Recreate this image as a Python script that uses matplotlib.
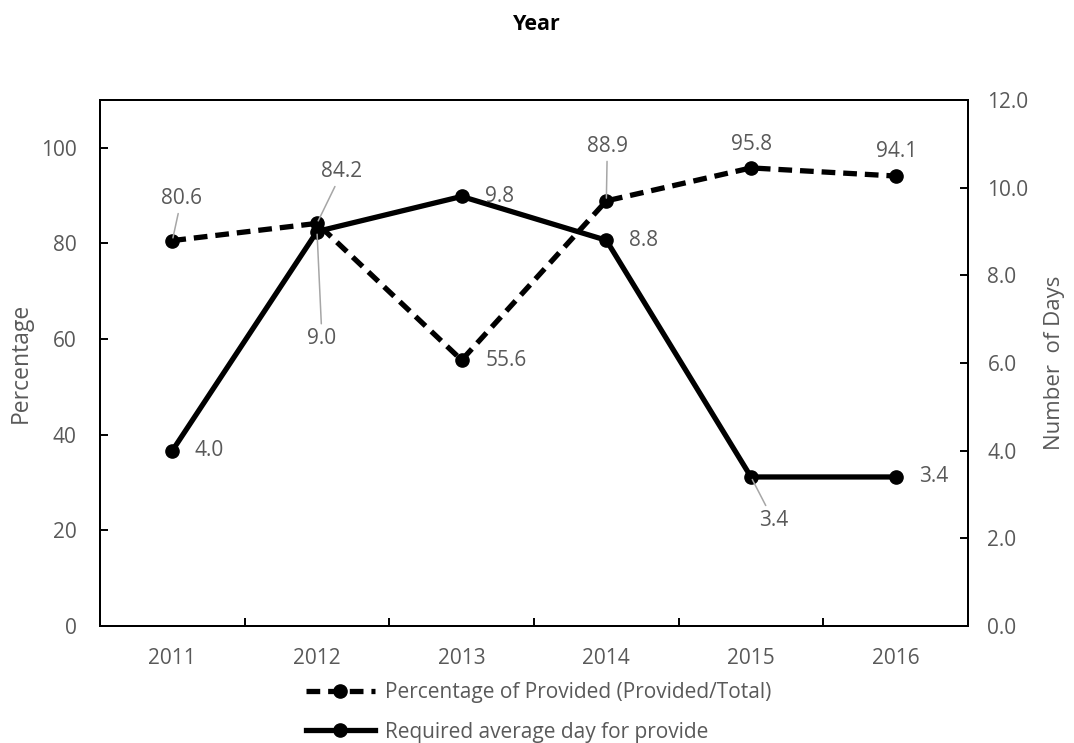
import matplotlib
matplotlib.use("Agg")
import matplotlib.pyplot as plt
from matplotlib.lines import Line2D

# ---- data ----
years = ["2011", "2012", "2013", "2014", "2015", "2016"]
pct_provided = [80.6, 84.2, 55.6, 88.9, 95.8, 94.1]
avg_days = [4.0, 9.0, 9.8, 8.8, 3.4, 3.4]

pct_ticks = [0, 20, 40, 60, 80, 100]
day_ticks = [0.0, 2.0, 4.0, 6.0, 8.0, 10.0, 12.0]

# label offsets (points) and whether a leader line is drawn
pct_label_style = [
    ((6.5, 30), "center", True),
    ((18, 37), "center", True),
    ((17, 0), "left", False),
    ((0.7, 39), "center", True),
    ((0.5, 17), "center", False),
    ((0.5, 18), "center", False),
]
day_label_style = [
    ((16, 0), "left", False),
    ((3.6, -77), "center", True),
    ((16.5, 0), "left", False),
    ((16.5, 0), "left", False),
    ((16, -31), "center", True),
    ((16.5, 0), "left", False),
]

plt.rcParams["font.family"] = ["Open Sans", "DejaVu Sans"]
TXT = "#595959"
LEAD = "#a6a6a6"
FS = 15

fig = plt.figure(figsize=(10.74, 7.43), dpi=100)
ax = fig.add_axes([100 / 1074, 117 / 743, 868 / 1074, 526 / 743])
ax2 = ax.twinx()

x = list(range(len(years)))

ax.plot(x, pct_provided, color="black", lw=3.8, ls=(0, (2.6, 1.5)),
        marker="o", ms=9.5, zorder=3)
ax2.plot(x, avg_days, color="black", lw=3.8, marker="o", ms=9.5, zorder=3)

ax.set_xlim(-0.5, len(years) - 0.5)
ax.set_ylim(0, 110)
ax2.set_ylim(0, 12)

ax.set_xticks(x)
ax.set_xticklabels(years)
ax.set_xticks([i + 0.5 for i in x[:-1]], minor=True)
ax.tick_params(axis="x", which="major", length=0, pad=16, labelsize=FS, labelcolor=TXT)
ax.tick_params(axis="x", which="minor", direction="in", length=6, width=1.4)

ax.set_yticks(pct_ticks)
ax.tick_params(axis="y", direction="in", length=6, width=1.4, pad=17,
               labelsize=FS, labelcolor=TXT)
ax2.set_yticks(day_ticks)
ax2.set_yticklabels([f"{v:.1f}" for v in day_ticks])
ax2.tick_params(axis="y", direction="in", length=6, width=1.4, pad=14,
                labelsize=FS, labelcolor=TXT)

for a in (ax, ax2):
    for s in a.spines.values():
        s.set_linewidth(1.4)
        s.set_color("black")

ax.set_ylabel("Percentage", fontsize=16.5, color=TXT, labelpad=6)
ax2.set_ylabel("Number  of Days", fontsize=16, color=TXT, labelpad=11,
               rotation=90)

def label_series(axis, values, styles):
    for xi, v, ((dx, dy), ha, lead) in zip(x, values, styles):
        kw = {}
        if lead:
            kw["arrowprops"] = dict(arrowstyle="-", color=LEAD, lw=1.1,
                                    shrinkA=1, shrinkB=2)
        axis.annotate(f"{v:.1f}", xy=(xi, v), xytext=(dx, dy),
                      textcoords="offset points", ha=ha, va="center",
                      fontsize=FS, color=TXT, zorder=5, **kw)

label_series(ax, pct_provided, pct_label_style)
label_series(ax2, avg_days, day_label_style)

fig.text(0.5, 1 - 25 / 743, "Year", ha="center", va="center",
         fontsize=15.5, fontweight="bold", color="black")

handles = [
    Line2D([], [], color="black", lw=3.8, ls=(0, (2.6, 1.5)), marker="o", ms=9.5),
    Line2D([], [], color="black", lw=3.8, marker="o", ms=9.5),
]
fig.legend(handles, ["Percentage of Provided (Provided/Total)",
                     "Required average day for provide"],
           loc="upper left", bbox_to_anchor=(306 / 1074, 1 - 682 / 743),
           frameon=False, fontsize=FS, labelcolor=TXT, handlelength=3.3,
           handletextpad=0.5, labelspacing=0.9, borderaxespad=0, borderpad=0)

fig.savefig("out.png", dpi=100)
